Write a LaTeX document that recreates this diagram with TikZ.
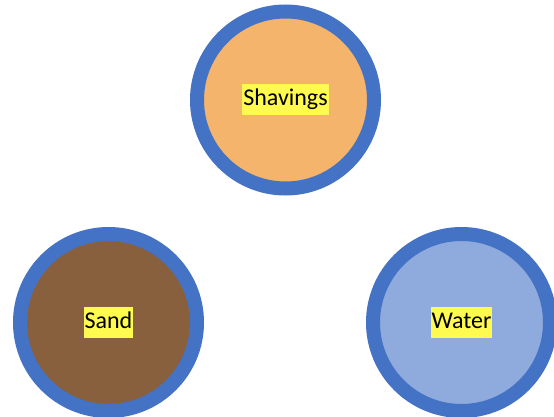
\documentclass[tikz,border=0pt]{standalone}
\usepackage{fontspec}
\setmainfont{Carlito}
\usepackage{xcolor}
\definecolor{ringblue}{RGB}{68,114,196}
\definecolor{shavingsorange}{RGB}{244,180,108}
\definecolor{sandbrown}{RGB}{137,96,62}
\definecolor{waterblue}{RGB}{143,170,220}
\definecolor{hlyellow}{RGB}{255,250,80}
\newcommand{\hltext}[1]{{\setlength{\fboxsep}{1pt}\colorbox{hlyellow}{\strut #1}}}
\tikzset{
  material/.style={circle, draw=ringblue, line width=14pt, minimum size=177pt,
    inner sep=0pt, font=\fontsize{24}{29}\selectfont}
}

\begin{document}
\begin{tikzpicture}[x=1pt,y=1pt]
			\def\rowtop{-100};
			\def\rowbot{-322.5};
			\useasboundingbox (0,0) rectangle (554,-417);
			\node[material, fill=shavingsorange] (shavings) at (285.5,\rowtop) {\hltext{Shavings}};
			\node[material, fill=sandbrown] (sand) at (108.5,\rowbot) {\hltext{Sand}};
			\node[material, fill=waterblue] (water) at (461.5,\rowbot) {\hltext{Water}};
\end{tikzpicture}
\end{document}
